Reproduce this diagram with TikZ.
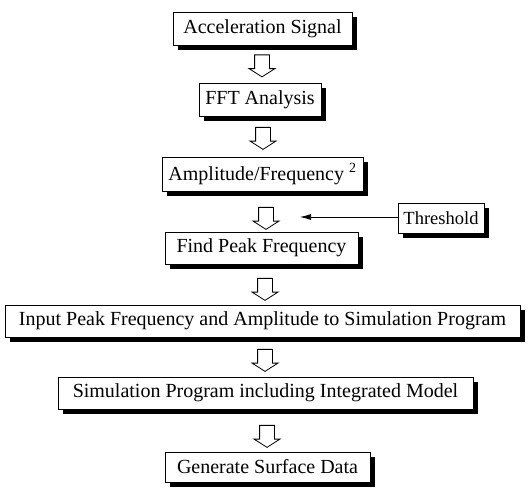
\documentclass[tikz,border=0pt]{standalone}
\usepackage{fontspec}
\setmainfont{Liberation Serif}
\usetikzlibrary{shadows,shapes.arrows,arrows.meta,calc}
\begin{document}
\begin{tikzpicture}[x=1pt,y=-1pt,
  box/.style={draw=black,line width=1pt,fill=white,inner sep=0pt,
    font=\fontsize{20}{22}\selectfont,
    drop shadow={shadow xshift=5pt,shadow yshift=-5pt,opacity=1,fill=black}},
  hollow/.style={single arrow,draw=black,line width=0.8pt,fill=white,
    shape border rotate=270,inner sep=7pt,minimum height=22pt,
    single arrow head extend=5.5pt,single arrow tip angle=115},
  thin arrow/.style={line width=0.7pt,-{Latex[length=11pt,width=6pt]}}]
\useasboundingbox (0,0) rectangle (528,491);
\fill[white] (0,0) rectangle (528,491);
\node[box,minimum width=179pt,minimum height=33pt] (acc) at (262.5,28.5) {Acceleration Signal};
\node[box,minimum width=122pt,minimum height=33pt] (fft) at (260,99.5) {FFT Analysis};
\node[box,minimum width=201pt,minimum height=34pt] (amp) at (262.5,174) {Amplitude/Frequency \textsuperscript{2}};
\node[box,minimum width=86pt,minimum height=30pt,font=\fontsize{18.5}{20}\selectfont] (thr) at (441,218) {Threshold};
\node[box,minimum width=193pt,minimum height=32pt] (peak) at (261.5,248) {Find Peak Frequency};
\node[box,minimum width=515pt,minimum height=32pt] (inp) at (262.5,321) {Input Peak Frequency and Amplitude to Simulation Program};
\node[box,minimum width=415pt,minimum height=32pt] (sim) at (265.5,393) {Simulation Program including Integrated Model};
\node[box,minimum width=205pt,minimum height=30pt] (gen) at (267.5,467) {Generate Surface Data};
\node[hollow] (a1) at (262,63.5) {};
\node[hollow] (a2) at (263,136) {};
\node[hollow] (a3) at (266,216) {};
\node[hollow] (a4) at (265,287) {};
\node[hollow] (a5) at (265,358) {};
\node[hollow] (a6) at (267,434) {};
\coordinate (tip) at (300,217);
\draw[thin arrow] (thr.west |- tip) -- (tip);
\end{tikzpicture}
\end{document}
